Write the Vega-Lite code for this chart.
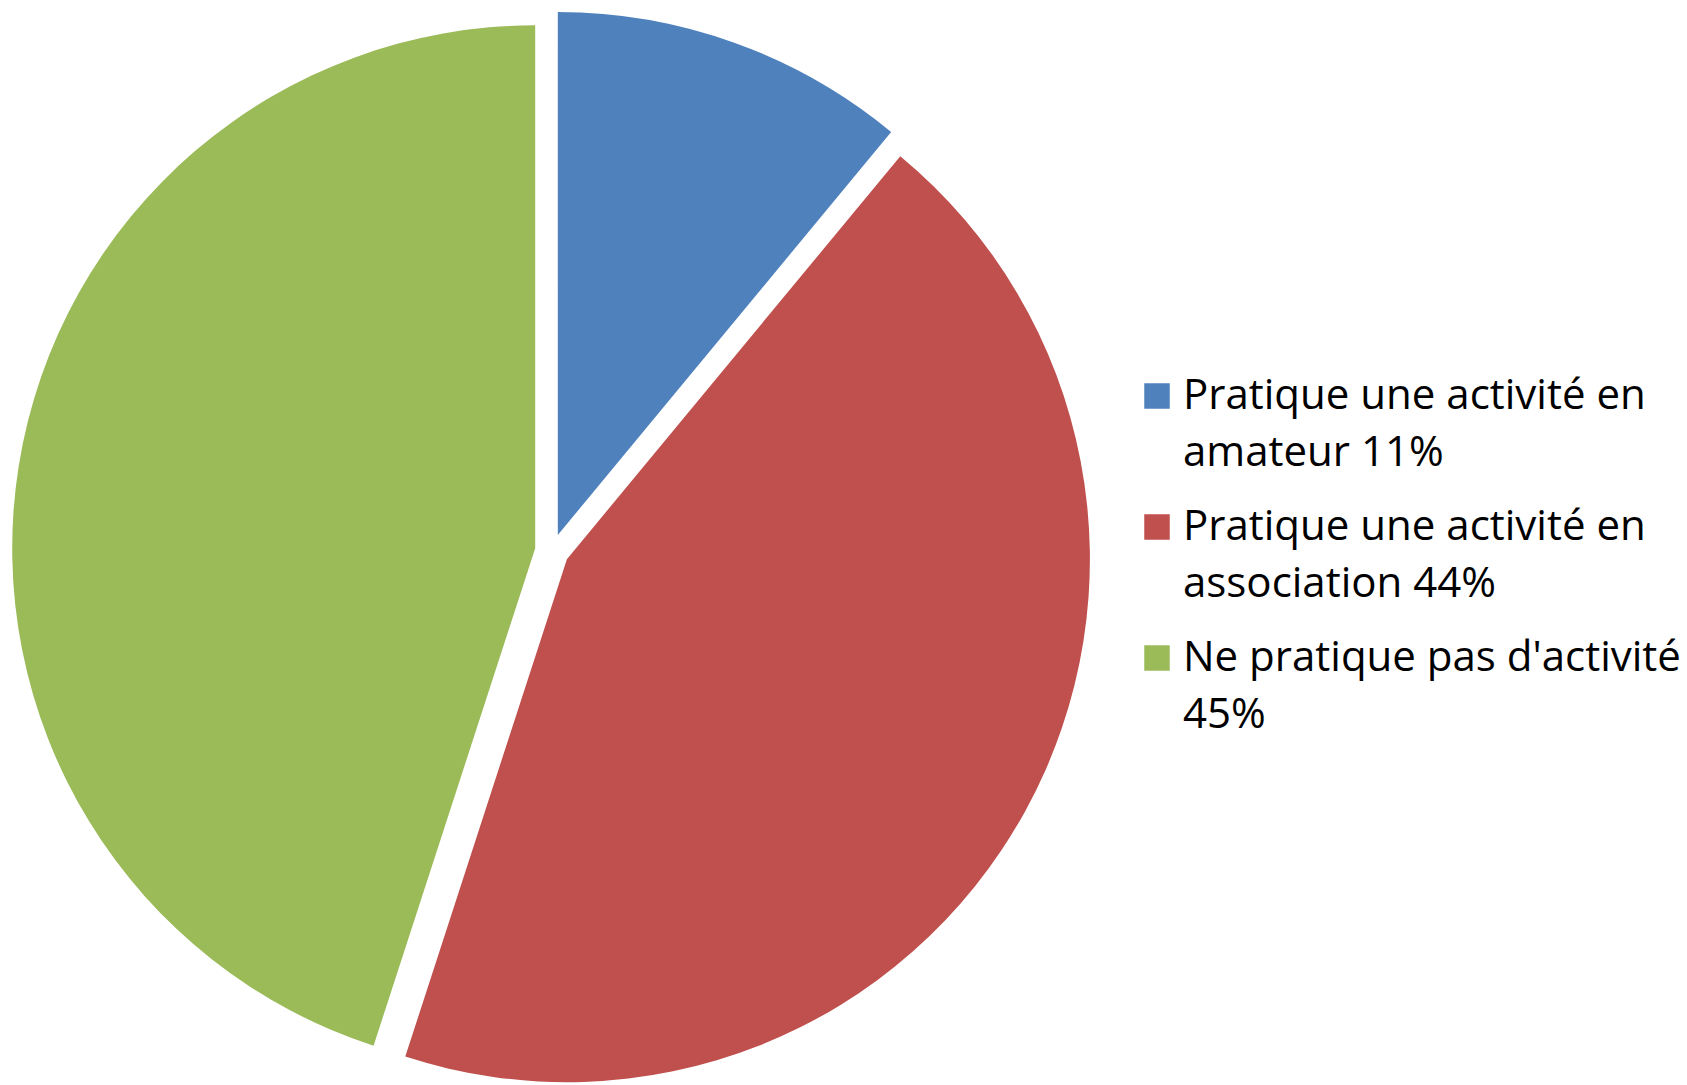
{
  "$schema": "https://vega.github.io/schema/vega-lite/v6.json",
  "autosize": "none",
  "width": 1046,
  "height": 1046,
  "padding": {"left": 29, "top": 28, "right": 612, "bottom": 11},
  "background": "white",
  "data": {
    "values": [
      {"categorie": "Pratique une activité en amateur", "part": 11, "ordre": 1},
      {"categorie": "Pratique une activité en association", "part": 44, "ordre": 2},
      {"categorie": "Ne pratique pas d'activité", "part": 45, "ordre": 3}
    ]
  },
  "transform": [
    {"stack": "part", "groupby": [], "sort": [{"field": "ordre"}], "as": ["debut", "fin"]}
  ],
  "encoding": {
    "theta": {"field": "debut", "type": "quantitative", "scale": {"domain": [0, 100], "range": [0, 6.283185307179586]}},
    "theta2": {"field": "fin"},
    "color": {
      "field": "categorie",
      "type": "nominal",
      "scale": {
        "domain": ["Pratique une activité en amateur", "Pratique une activité en association", "Ne pratique pas d'activité"],
        "range": ["#4F81BD", "#C0504D", "#9BBB59"]
      },
      "legend": {
        "title": null,
        "orient": "none",
        "legendX": 1107,
        "legendY": 347,
        "symbolType": "square",
        "symbolSize": 650,
        "symbolStrokeWidth": 0,
        "labelFont": "Open Sans",
        "labelFontSize": 42,
        "labelColor": "#000000",
        "labelLimit": 1000,
        "labelOffset": 5,
        "rowPadding": 32,
        "labelExpr": "datum.label == 'Pratique une activité en amateur' ? ['Pratique une activité en', 'amateur 11%'] : datum.label == 'Pratique une activité en association' ? ['Pratique une activité en', 'association 44%'] : ['Ne pratique pas d\\'activité', '45%']",
        "encode": {"labels": {"update": {"lineHeight": {"value": 57}}}}
      }
    }
  },
  "layer": [
    {
      "transform": [{"filter": "datum.ordre == 1"}],
      "mark": {"type": "arc", "radius": 523, "xOffset": 5.8, "yOffset": -16.0}
    },
    {
      "transform": [{"filter": "datum.ordre == 2"}],
      "mark": {"type": "arc", "radius": 523, "xOffset": 14.9, "yOffset": 8.2}
    },
    {
      "transform": [{"filter": "datum.ordre == 3"}],
      "mark": {"type": "arc", "radius": 523, "xOffset": -16.8, "yOffset": -2.7}
    }
  ]
}
